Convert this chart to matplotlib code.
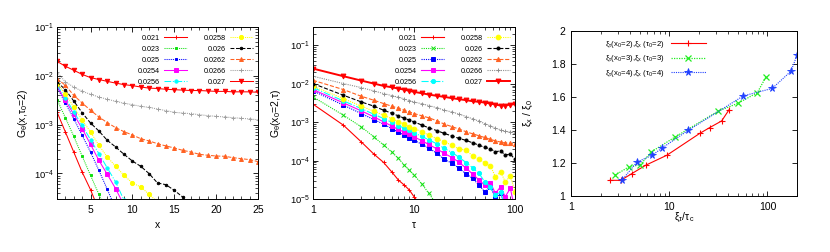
import matplotlib
matplotlib.use("Agg")
import matplotlib.pyplot as plt
from matplotlib.ticker import FuncFormatter, LogLocator, MultipleLocator, NullFormatter, FixedLocator

plt.rcParams['font.family'] = ['Liberation Sans', 'DejaVu Sans']
plt.rcParams['mathtext.fontset'] = 'custom'
plt.rcParams['mathtext.rm'] = 'Liberation Sans'
plt.rcParams['mathtext.it'] = 'Liberation Sans'
plt.rcParams['mathtext.bf'] = 'Liberation Sans:bold'
plt.rcParams['mathtext.default'] = 'rm'

# ---------------- data ----------------
labels = ['0.021', '0.023', '0.025', '0.0254', '0.0256',
          '0.0258', '0.026', '0.0262', '0.0266', '0.027']

# Panel 1: G_theta(x, tau0=2) vs x
x1 = list(range(1, 26))
p1_021 = [1.82e-3, 7.07e-4, 2.75e-4, 1.07e-4, 4.67e-5, 1.76e-5]
p1_023 = [3.25e-3, 1.39e-3, 5.77e-4, 2.28e-4, 9.17e-5, 3.74e-5, 1.50e-5]
p1_025 = [5.73e-3, 2.78e-3, 1.33e-3, 6.05e-4, 2.75e-4, 1.16e-4, 4.74e-5, 1.90e-5]
p1_0254 = [6.10e-3, 3.15e-3, 1.63e-3, 8.28e-4, 3.95e-4, 1.86e-4, 9.62e-5, 4.89e-5, 2.23e-5]
p1_0256 = [6.38e-3, 3.57e-3, 1.82e-3, 9.68e-4, 4.93e-4, 2.55e-4, 1.30e-4, 6.70e-5, 2.83e-5]
p1_0258 = [6.9e-3, 4.32e-3, 2.30e-3, 1.26e-3, 7.07e-4, 3.78e-4, 2.18e-4, 1.40e-4,
           9.17e-5, 6.38e-5, 5.29e-5, 3.74e-5, 2.6e-5]
p1_026 = [7.5e-3, 5.21e-3, 3.05e-3, 1.76e-3, 1.08e-3, 7.42e-4, 4.78e-4, 3.49e-4, 2.47e-4,
          1.80e-4, 1.40e-4, 9.93e-5, 6.38e-5, 5.90e-5, 4.52e-5, 3.30e-5, 2.4e-5]
p1_0262 = [8.8e-3, 6.38e-3, 3.99e-3, 2.78e-3, 1.97e-3, 1.44e-3, 1.10e-3, 8.69e-4, 7.19e-4,
           6.14e-4, 5.16e-4, 4.63e-4, 4.08e-4, 3.66e-4, 3.33e-4, 2.98e-4, 2.75e-4, 2.47e-4,
           2.36e-4, 2.28e-4, 2.25e-4, 2.11e-4, 2.01e-4, 1.92e-4, 1.75e-4]
p1_0266 = [0.0120, 0.00748, 0.00590, 0.00482, 0.00418, 0.00369, 0.00331, 0.00301, 0.00274,
           0.00257, 0.00237, 0.00226, 0.00209, 0.00194, 0.00179, 0.00173, 0.00168, 0.00160,
           0.00153, 0.00148, 0.00144, 0.00139, 0.00135, 0.00131, 0.00126]
p1_027 = [0.0198, 0.0157, 0.0130, 0.0107, 0.0092, 0.0084, 0.0077, 0.0071, 0.0066, 0.0063,
          0.0059, 0.0056, 0.0055, 0.0053, 0.0052, 0.0051, 0.0050, 0.0050, 0.0049, 0.0048,
          0.0048, 0.0047, 0.0047, 0.0047, 0.0046]

# Panel 2: G_theta(x0=2, tau) vs tau
tau2 = [1, 2, 3, 4, 5, 6, 7, 8, 9, 10, 12, 14, 17, 20, 24, 28, 33, 38, 44, 50, 57, 64, 72, 80, 90, 100]
p2_021 = [2.94e-3, 8.35e-4, 3.08e-4, 1.48e-4, 8.95e-5, 5.13e-5, 3.12e-5, 2.31e-5, 1.71e-5, 1.15e-5, 6e-6]
p2_023 = [4.55e-3, 1.52e-3, 7.57e-4, 4.16e-4, 2.53e-4, 1.69e-4, 1.14e-4, 7.64e-5, 5.66e-5, 4.20e-5,
          2.45e-5, 1.40e-5, 7e-6]
p2_025 = [6.52e-3, 2.77e-3, 1.68e-3, 1.17e-3, 8.87e-4, 6.84e-4, 5.50e-4, 4.59e-4, 3.92e-4, 3.41e-4,
          2.63e-4, 2.11e-4, 1.53e-4, 1.07e-4, 8.43e-5, 6.27e-5, 4.46e-5, 3.44e-5, 2.31e-5, 1.55e-5,
          2.09e-5, 1.04e-5, 1.40e-5, 6e-6]
p2_0254 = [7.05e-3, 3.18e-3, 1.97e-3, 1.38e-3, 1.02e-3, 8.0e-4, 6.46e-4, 5.50e-4, 4.79e-4, 4.16e-4,
           3.27e-4, 2.63e-4, 1.99e-4, 1.53e-4, 1.19e-4, 8.95e-5, 6.27e-5, 4.46e-5, 3.12e-5, 2.31e-5,
           2.65e-5, 1.40e-5, 2.09e-5, 1.15e-5, 1.89e-5, 5e-6]
p2_0256 = [7.94e-3, 3.58e-3, 2.26e-3, 1.61e-3, 1.24e-3, 1.0e-3, 8.18e-4, 6.98e-4, 6.08e-4, 5.28e-4,
           4.24e-4, 3.48e-4, 2.69e-4, 2.07e-4, 1.60e-4, 1.21e-4, 8.79e-5, 6.52e-5, 4.65e-5, 2.82e-5,
           2.09e-5, 1.27e-5, 1.55e-5, 6e-6]
p2_0258 = [8.61e-3, 4.12e-3, 2.61e-3, 1.93e-3, 1.52e-3, 1.24e-3, 1.04e-3, 8.87e-4, 7.71e-4, 6.84e-4,
           5.61e-4, 4.59e-4, 3.69e-4, 3.08e-4, 2.48e-4, 1.99e-4, 1.88e-4, 1.31e-4, 1.07e-4, 8.79e-5,
           7.35e-5, 3.80e-5, 5.13e-5, 2.82e-5, 3.95e-5, 1.55e-5]
p2_026 = [1.01e-2, 5.02e-3, 3.37e-3, 2.61e-3, 2.05e-3, 1.71e-3, 1.46e-3, 1.27e-3, 1.13e-3, 1.02e-3,
          8.36e-4, 7.13e-4, 5.96e-4, 5.08e-4, 4.33e-4, 3.77e-4, 3.34e-4, 2.90e-4, 2.53e-4, 2.20e-4,
          2.03e-4, 1.69e-4, 1.80e-4, 1.39e-4, 1.48e-4, 1.07e-4]
p2_0262 = [1.23e-2, 7.05e-3, 4.73e-3, 3.72e-3, 3.05e-3, 2.61e-3, 2.31e-3, 2.05e-3, 1.85e-3, 1.68e-3,
           1.46e-3, 1.30e-3, 1.08e-3, 8.87e-4, 7.57e-4, 6.58e-4, 5.61e-4, 4.98e-4, 4.42e-4, 4.00e-4,
           3.55e-4, 3.27e-4, 3.03e-4, 2.90e-4, 2.79e-4, 2.69e-4]
p2_0266 = [1.57e-2, 1.01e-2, 7.94e-3, 6.52e-3, 5.56e-3, 4.93e-3, 4.46e-3, 4.04e-3, 3.66e-3, 3.37e-3,
           2.99e-3, 2.71e-3, 2.36e-3, 2.05e-3, 1.82e-3, 1.61e-3, 1.40e-3, 1.22e-3, 1.06e-3, 9.2e-4,
           8.0e-4, 6.98e-4, 6.32e-4, 5.83e-4, 5.50e-4, 5.28e-4]
p2_027 = [2.48e-2, 1.57e-2, 1.21e-2, 1.01e-2, 8.79e-3, 8.11e-3, 7.49e-3, 7.05e-3, 6.51e-3, 6.14e-3,
          5.66e-3, 5.23e-3, 4.83e-3, 4.55e-3, 4.20e-3, 3.96e-3, 3.73e-3, 3.51e-3, 3.38e-3, 3.24e-3,
          3.05e-3, 2.88e-3, 2.71e-3, 2.71e-3, 2.88e-3, 2.94e-3]

# Panel 3: xi_x/xi_0 vs xi_tau/tau_c
p3_x_2 = [2.49, 3.21, 4.17, 5.74, 9.46, 20.4, 25.9, 34.2, 40.8]
p3_y_2 = [1.095, 1.095, 1.136, 1.186, 1.247, 1.379, 1.415, 1.455, 1.524]
p3_x_3 = [2.81, 3.86, 5.09, 6.56, 11.5, 31.4, 49.7, 78.8, 96.1]
p3_y_3 = [1.126, 1.176, 1.190, 1.267, 1.358, 1.514, 1.561, 1.626, 1.719]
p3_x_4 = [3.29, 4.70, 6.72, 8.47, 15.7, 56.9, 112.0, 174.0, 200.0]
p3_y_4 = [1.095, 1.206, 1.247, 1.291, 1.399, 1.607, 1.652, 1.757, 1.854]
p3_labels = [r'$\xi_\tau$(x$_0$=2),$\xi_x$ ($\tau_0$=2)',
             r'$\xi_\tau$(x$_0$=3),$\xi_x$ ($\tau_0$=3)',
             r'$\xi_\tau$(x$_0$=4),$\xi_x$ ($\tau_0$=4)']

# ---------------- styles ----------------
DOT = (0, (1, 1))
styles1 = [
    dict(color='#ff0000', ls='-', marker='+', ms=3),
    dict(color='#10e010', ls=DOT, marker='s', ms=2.0),
    dict(color='#0000ff', ls=DOT, marker='s', ms=2.0),
    dict(color='#ff00ff', ls='-', marker='s', ms=3.0),
    dict(color='#00ffff', ls='-.', marker='o', ms=2.4),
    dict(color='#ffff00', ls=DOT, marker='o', ms=3),
    dict(color='#000000', ls='--', marker='o', ms=1.8),
    dict(color='#ff6020', ls='--', marker='^', ms=2.8),
    dict(color='#a0a0a0', ls=DOT, marker='+', ms=2.5),
    dict(color='#ff0000', ls='-', marker='v', ms=3.2),
]
styles2 = [
    dict(color='#ff0000', ls='-', marker='+', ms=3),
    dict(color='#10e010', ls=DOT, marker='x', ms=2.5),
    dict(color='#0000ff', ls=DOT, marker='s', ms=2.4),
    dict(color='#ff00ff', ls='-', marker='s', ms=3.2),
    dict(color='#00ffff', ls='-.', marker='o', ms=3),
    dict(color='#ffff00', ls=DOT, marker='o', ms=3.4),
    dict(color='#000000', ls='--', marker='o', ms=2.2),
    dict(color='#ff6020', ls='--', marker='^', ms=3),
    dict(color='#909090', ls=DOT, marker='+', ms=2.5),
    dict(color='#ff0000', ls='-', marker='v', ms=3.5),
]

p1_series = [p1_021, p1_023, p1_025, p1_0254, p1_0256, p1_0258, p1_026, p1_0262, p1_0266, p1_027]
p2_series = [p2_021, p2_023, p2_025, p2_0254, p2_0256, p2_0258, p2_026, p2_0262, p2_0266, p2_027]

W, H = 830, 252
fig = plt.figure(figsize=(W / 100, H / 100), dpi=100)
ax1 = fig.add_axes([57 / W, (H - 199) / H, 201 / W, 172 / H])
ax2 = fig.add_axes([313 / W, (H - 199) / H, 202 / W, 172 / H])
ax3 = fig.add_axes([571 / W, (H - 196) / H, 226 / W, 165 / H])

FS = 7.5
LFS = 5.2


def style_ax(ax):
    ax.tick_params(which='both', direction='in', top=True, right=True, labelsize=FS)
    ax.tick_params(axis='y', which='both', pad=2)
    ax.tick_params(axis='x', which='both', pad=4)
    ax.tick_params(which='major', length=3.5, width=0.6)
    ax.tick_params(which='minor', length=2, width=0.5)
    for s in ax.spines.values():
        s.set_linewidth(0.7)


# ---- panel 1
for lab, vals, st in zip(labels, p1_series, styles1):
    ax1.plot(x1[:len(vals)], vals, lw=0.75, mew=0.7, label=lab, **st)
ax1.set_yscale('log')
ax1.set_xlim(1, 25)
ax1.set_ylim(3e-5, 0.1)
ax1.xaxis.set_major_locator(FixedLocator([5, 10, 15, 20, 25]))
ax1.xaxis.set_minor_locator(MultipleLocator(1))
ax1.yaxis.set_minor_locator(LogLocator(base=10, subs=range(2, 10)))
ax1.yaxis.set_minor_formatter(NullFormatter())
ax1.set_xlabel('x', fontsize=FS)
ax1.set_ylabel(r'G$_\theta$(x,$\tau_0$=2)', fontsize=FS)
style_ax(ax1)
ax1.tick_params(axis='y', labelsize=6.8)
ax1.yaxis.set_label_coords(-0.135, 0.5)
ax1.xaxis.set_label_coords(0.5, -0.12)
ax1.legend(loc='upper right', bbox_to_anchor=(1.0, 0.985), ncol=2, frameon=False, fontsize=LFS,
           markerfirst=False, handlelength=3.2, columnspacing=2.2, labelspacing=0.55,
           handletextpad=0.6, borderaxespad=0.3)

# ---- panel 2
for lab, vals, st in zip(labels, p2_series, styles2):
    lw = 1.4 if lab == '0.027' else 0.8
    ax2.plot(tau2[:len(vals)], vals, lw=lw, mew=0.7, label=lab, **st)
ax2.set_xscale('log')
ax2.set_yscale('log')
ax2.set_xlim(1, 100)
ax2.set_ylim(1e-5, 0.3)
ax2.xaxis.set_major_formatter(FuncFormatter(lambda v, p: f'{v:g}'))
ax2.xaxis.set_minor_formatter(NullFormatter())
ax2.yaxis.set_minor_locator(LogLocator(base=10, subs=range(2, 10)))
ax2.yaxis.set_minor_formatter(NullFormatter())
ax2.set_xlabel(r'$\tau$', fontsize=FS)
ax2.set_ylabel(r'G$_\theta$(x$_0$=2,$\tau$)', fontsize=FS)
style_ax(ax2)
ax2.tick_params(axis='y', labelsize=6.8)
ax2.yaxis.set_label_coords(-0.15, 0.5)
ax2.xaxis.set_label_coords(0.5, -0.12)
ax2.legend(loc='upper right', bbox_to_anchor=(1.0, 0.985), ncol=2, frameon=False, fontsize=LFS,
           markerfirst=False, handlelength=3.2, columnspacing=2.2, labelspacing=0.55,
           handletextpad=0.6, borderaxespad=0.3)

# ---- panel 3
ax3.plot(p3_x_2, p3_y_2, color='#ff0000', ls='-', marker='+', ms=5, lw=0.8, mew=0.8, label=p3_labels[0])
ax3.plot(p3_x_3, p3_y_3, color='#22ee22', ls=DOT, marker='x', ms=5, lw=0.9, mew=0.9, label=p3_labels[1])
ax3.plot(p3_x_4, p3_y_4, color='#2040ff', ls=DOT, marker='*', ms=5.5, lw=0.8, mew=0.6, label=p3_labels[2])
ax3.set_xscale('log')
ax3.set_xlim(1, 200)
ax3.set_ylim(1, 2)
ax3.yaxis.set_major_locator(MultipleLocator(0.2))
ax3.yaxis.set_major_formatter(FuncFormatter(lambda v, p: f'{v:g}'))
ax3.xaxis.set_major_formatter(FuncFormatter(lambda v, p: f'{v:g}'))
ax3.xaxis.set_minor_formatter(NullFormatter())
ax3.set_xlabel(r'$\xi_\tau$/$\tau_c$', fontsize=FS)
ax3.set_ylabel(r'$\xi_x$ / $\xi_0$', fontsize=FS)
style_ax(ax3)
ax3.tick_params(axis='y', which='both', pad=4)
ax3.yaxis.set_label_coords(-0.159, 0.5)
ax3.xaxis.set_label_coords(0.5, -0.09)
ax3.legend(loc='upper right', bbox_to_anchor=(0.62, 0.985), frameon=False, fontsize=LFS + 0.4,
           markerfirst=False, handlelength=4.5, labelspacing=0.45, handletextpad=0.8, borderaxespad=0.3)

fig.savefig('out.png', dpi=100)
